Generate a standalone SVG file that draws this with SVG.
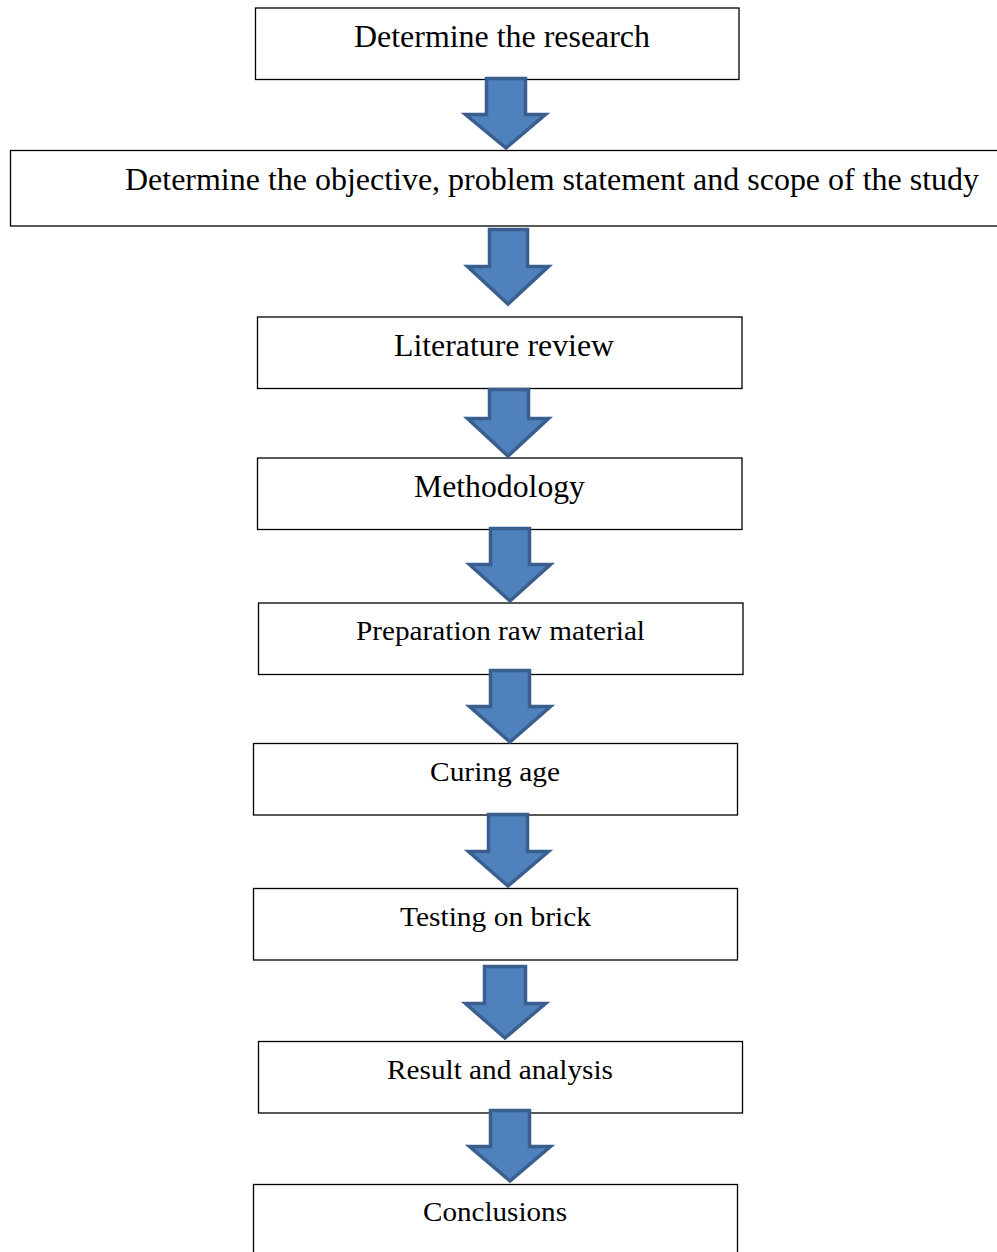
<svg xmlns="http://www.w3.org/2000/svg" width="997" height="1252" viewBox="0 0 997 1252">
<style>
.box{fill:#fff;stroke:#000;stroke-width:1.3}
.t1{font-family:"Liberation Serif","Times New Roman",serif;font-size:31px;fill:#000;text-anchor:start}
.t2{font-family:"Liberation Serif","Times New Roman",serif;font-size:28px;fill:#000;text-anchor:start}
.arr{fill:#4F81BD;stroke:#3A5F8E;stroke-width:3.5;stroke-linejoin:miter}
</style>
<rect width="997" height="1252" fill="#fff"/>
<g id="n1"><rect class="box" x="255.5" y="8" width="483.5" height="71.5"/><text class="t1" x="354" y="47" textLength="296" lengthAdjust="spacingAndGlyphs">Determine the research</text></g>
<g id="n2"><rect class="box" x="10.5" y="150.5" width="1000" height="75.5"/><text class="t1" x="125" y="190" textLength="854" lengthAdjust="spacingAndGlyphs">Determine the objective, problem statement and scope of the study</text></g>
<g id="n3"><rect class="box" x="257.5" y="317" width="484.5" height="71.5"/><text class="t1" x="394" y="356" textLength="220" lengthAdjust="spacingAndGlyphs">Literature review</text></g>
<g id="n4"><rect class="box" x="257.5" y="458" width="484.5" height="71.5"/><text class="t1" x="414" y="497" textLength="171" lengthAdjust="spacingAndGlyphs">Methodology</text></g>
<g id="n5"><rect class="box" x="258.5" y="603" width="484.5" height="71.5"/><text class="t2" x="356" y="640" textLength="289" lengthAdjust="spacingAndGlyphs">Preparation raw material</text></g>
<g id="n6"><rect class="box" x="253.5" y="743.5" width="484" height="71.5"/><text class="t2" x="430" y="781" textLength="130" lengthAdjust="spacingAndGlyphs">Curing age</text></g>
<g id="n7"><rect class="box" x="253.5" y="888.5" width="484" height="71.5"/><text class="t2" x="400" y="926" textLength="191" lengthAdjust="spacingAndGlyphs">Testing on brick</text></g>
<g id="n8"><rect class="box" x="258.5" y="1041.5" width="484" height="71.5"/><text class="t2" x="387" y="1079" textLength="226" lengthAdjust="spacingAndGlyphs">Result and analysis</text></g>
<g id="n9"><rect class="box" x="253.5" y="1184.5" width="484" height="80"/><text class="t2" x="423" y="1221" textLength="144" lengthAdjust="spacingAndGlyphs">Conclusions</text></g>
<g id="connectors">
<polygon class="arr" points="486.5,78.5 525.5,78.5 525.5,114.5 545.5,114.5 506,148 465.5,114.5 486.5,114.5"/>
<polygon class="arr" points="489.5,229.5 527.5,229.5 527.5,266.5 548.5,266.5 508,304 467.5,266.5 489.5,266.5"/>
<polygon class="arr" points="489.5,389.5 528.5,389.5 528.5,418.5 548.5,418.5 508,456 467.5,418.5 489.5,418.5"/>
<polygon class="arr" points="490.5,528.5 529.5,528.5 529.5,564.5 550.5,564.5 510,601 469.5,564.5 490.5,564.5"/>
<polygon class="arr" points="490.5,670.5 529.5,670.5 529.5,706.5 550.5,706.5 510,742 469.5,706.5 490.5,706.5"/>
<polygon class="arr" points="488.5,814.5 527.5,814.5 527.5,851.5 548.5,851.5 508,886 468.5,851.5 488.5,851.5"/>
<polygon class="arr" points="484.5,966.5 525.5,966.5 525.5,1003.5 545.5,1003.5 505,1038 465.5,1003.5 484.5,1003.5"/>
<polygon class="arr" points="490.5,1110.5 529.5,1110.5 529.5,1146.5 550.5,1146.5 510,1181 469.5,1146.5 490.5,1146.5"/>
</g>
</svg>
